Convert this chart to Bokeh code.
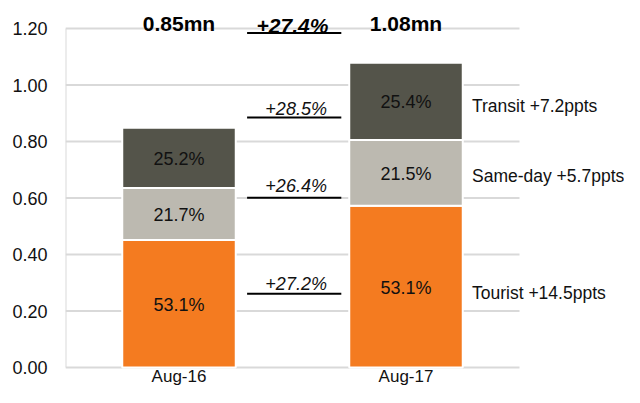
from bokeh.plotting import figure
from bokeh.models import Range1d, FixedTicker, NumeralTickFormatter, ColumnDataSource
from bokeh.embed import file_html
from bokeh.resources import INLINE
from bokeh.core.properties import value

# ---------------- data ----------------
periods = ["Aug-16", "Aug-17"]
segments = ["Tourist", "Same-day", "Transit"]
tourist = [0.451, 0.573]
same_day = [0.184, 0.232]
transit = [0.214, 0.274]
growth_labels = ["+27.2%", "+26.4%", "+28.5%"]      # per segment, Aug-16 -> Aug-17
total_growth_label = "+27.4%"
ppts_labels = ["Tourist +14.5ppts", "Same-day +5.7ppts", "Transit +7.2ppts"]
y_ticks = [0.0, 0.2, 0.4, 0.6, 0.8, 1.0, 1.2]

# ---------------- styles / layout ----------------
colors = ["#F47B20", "#BCB9B0", "#54544A"]
FONT = "Liberation Sans"
TXT = "#111111"
GRID = "#D9D9D9"
FS = "18px"
W, H = 624, 387
LEFT = 65          # left border (y-axis area)
TOP_PX = 28        # pixels above the 1.20 line
BOTTOM_PX = 20     # pixels below the 0.00 line
CAT_PX = 227.0     # pixels per category
PLOT_PX = H - TOP_PX - BOTTOM_PX  # pixels from 0.00 to 1.20

series = [tourist, same_day, transit]
totals = [sum(s[i] for s in series) for i in range(len(periods))]
n_cat = len(periods)
xpos = [i + 0.5 for i in range(n_cat)]
ymax = y_ticks[-1]
u = ymax / PLOT_PX  # data units per pixel

p = figure(x_range=Range1d(0, (W - LEFT) / CAT_PX),
           y_range=Range1d(-BOTTOM_PX * u, ymax + TOP_PX * u),
           width=W, height=H, output_backend="svg", toolbar_location=None,
           min_border_left=LEFT, min_border_right=0, min_border_top=0, min_border_bottom=0)
p.outline_line_color = None
p.background_fill_color = "white"
p.xgrid.visible = False
p.ygrid.visible = False
p.xaxis.visible = False

# grid lines and left axis line, limited to the category area
p.segment(x0=[0] * len(y_ticks), x1=[n_cat] * len(y_ticks), y0=y_ticks, y1=y_ticks,
          line_color=GRID, line_width=2)
p.segment(x0=[0], x1=[0], y0=[0], y1=[ymax], line_color=GRID, line_width=2)

src = ColumnDataSource(dict(x=xpos, **{n: s for n, s in zip(segments, series)}))
p.vbar_stack(segments, x="x", width=0.5, source=src,
             fill_color=colors, line_color="white", line_width=2)

# category labels under the bars
p.text(x=xpos, y=[0] * n_cat, text=periods, text_align="center", text_baseline="middle",
       y_offset=9, text_font=value(FONT), text_font_size="17px", text_color=TXT)

# share labels inside segments
xs, ys, txt, mids = [], [], [], []
for k, s in enumerate(series):
    mk = []
    for i in range(n_cat):
        bottom = sum(series[j][i] for j in range(k))
        m = bottom + s[i] / 2
        mk.append(m)
        xs.append(xpos[i])
        ys.append(m)
        txt.append(f"{s[i] / totals[i] * 100:.1f}%")
    mids.append(mk)
p.text(x=xs, y=ys, text=txt, text_align="center", text_baseline="middle", y_offset=1,
       text_font=value(FONT), text_font_size=FS, text_color=TXT)

# growth annotations between the bars
line_nudge_px = [1.5, -4.2, 12.2]
gy = [(mids[k][0] + mids[k][1]) / 2 + line_nudge_px[k] * u for k in range(3)]
top_line = ymax - 4.5 * u
gap_mid = (xpos[0] + xpos[1]) / 2
p.segment(x0=[gap_mid - 0.2] * 4, x1=[gap_mid + 0.215] * 4, y0=gy + [top_line], y1=gy + [top_line],
          line_color="black", line_width=2)
p.text(x=[gap_mid + 0.016] * 3, y=gy, text=growth_labels, text_align="center",
       text_baseline="middle", y_offset=[-10, -12, -8],
       text_font=value(FONT), text_font_size=FS, text_font_style="italic", text_color=TXT)
p.text(x=[gap_mid], y=[top_line], text=[total_growth_label], text_align="center",
       text_baseline="middle", y_offset=-8,
       text_font=value(FONT), text_font_size="21px", text_font_style="bold italic",
       text_color="black")

# totals above bars
p.text(x=xpos, y=[ymax] * n_cat, text=[f"{t:.2f}mn" for t in totals], text_align="center",
       text_baseline="middle", y_offset=-5,
       text_font=value(FONT), text_font_size="21px", text_font_style="bold",
       text_color="black")

# share-change labels to the right of Aug-17
p.text(x=[xpos[-1]] * 3, y=[mids[k][-1] for k in range(3)],
       text=ppts_labels, text_align="left", text_baseline="middle",
       x_offset=66, y_offset=[6, 3, 5],
       text_font=value(FONT), text_font_size="17.5px", text_color=TXT)

# y axis
p.yaxis.ticker = FixedTicker(ticks=y_ticks)
p.yaxis.formatter = NumeralTickFormatter(format="0.00")
p.yaxis.axis_line_color = None
p.yaxis.major_tick_line_color = None
p.yaxis.minor_tick_line_color = None
p.yaxis.major_tick_out = 0
p.yaxis.minor_tick_out = 0
p.yaxis.major_label_text_font = FONT
p.yaxis.major_label_text_font_size = FS
p.yaxis.major_label_text_color = TXT
p.yaxis.major_label_standoff = 18

open("out.html", "w").write(file_html(p, INLINE))
